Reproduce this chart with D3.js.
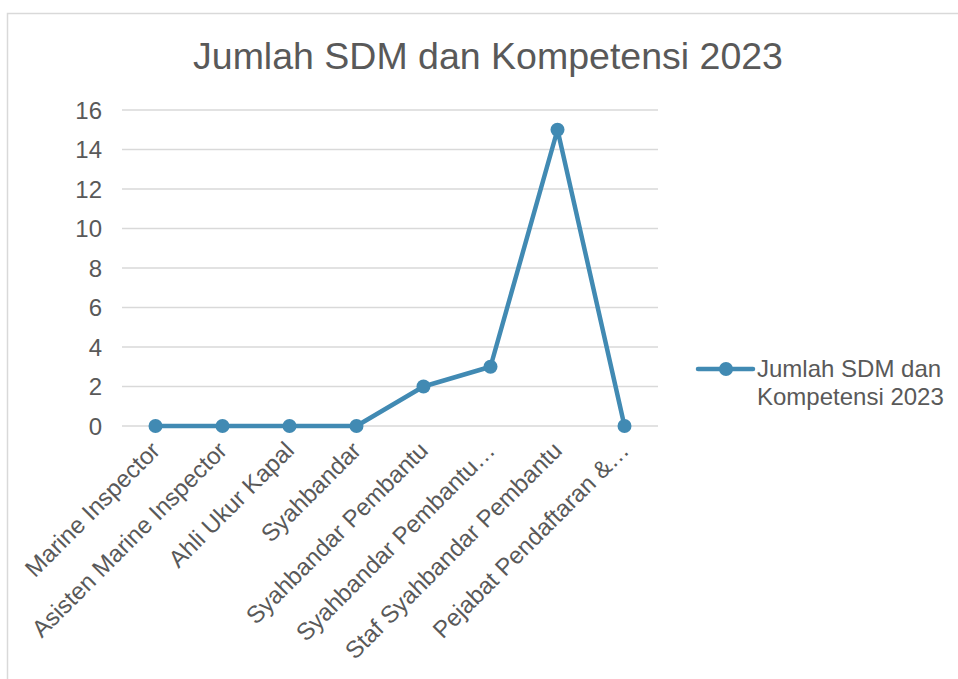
<!DOCTYPE html>
<html>
<head>
<meta charset="utf-8">
<script src="https://cdn.jsdelivr.net/npm/d3@7"></script>
<style>
  body { margin: 0; background: #fff; }
  text { font-family: "Liberation Sans", Arial, sans-serif; fill: #595959; }
</style>
</head>
<body>
<svg width="958" height="679"></svg>
<script>
var categories = ["Marine Inspector", "Asisten Marine Inspector", "Ahli Ukur Kapal", "Syahbandar",
    "Syahbandar Pembantu", "Syahbandar Pembantu…", "Staf Syahbandar Pembantu", "Pejabat Pendaftaran &…"];
var values = [0, 0, 0, 0, 2, 3, 15, 0];
var yTicks = [0, 2, 4, 6, 8, 10, 12, 14, 16];
var seriesName = "Jumlah SDM dan Kompetensi 2023";
var legendLines = ["Jumlah SDM dan", "Kompetensi 2023"];

var svg = d3.select("svg");
var color = "#418ab3";

// chart border
svg.append("rect")
    .attr("x", 7.5).attr("y", 13.5)
    .attr("width", 960).attr("height", 700)
    .attr("fill", "none").attr("stroke", "#d9d9d9").attr("stroke-width", 1.5);

svg.append("text")
    .attr("x", 488).attr("y", 69)
    .attr("text-anchor", "middle")
    .style("font-size", "37.5px")
    .text(seriesName);

var x = d3.scaleBand().domain(categories).range([122, 658]);
var y = d3.scaleLinear().domain([0, 16]).range([426, 110]);

// gridlines
svg.append("g").selectAll("line")
    .data(yTicks)
    .enter().append("line")
    .attr("x1", 122).attr("x2", 658)
    .attr("y1", function(d) { return y(d); })
    .attr("y2", function(d) { return y(d); })
    .attr("stroke", "#d9d9d9").attr("stroke-width", 1.5);

var yAxis = svg.append("g")
    .attr("transform", "translate(122,0)")
    .call(d3.axisLeft(y).tickValues(yTicks).tickSize(0).tickPadding(20));
yAxis.select(".domain").remove();
yAxis.selectAll("text").style("font-size", "24px").attr("dy", "0.35em")
    .style("font-family", "'Liberation Sans', Arial, sans-serif").attr("fill", "#595959");

var xAxis = svg.append("g")
    .attr("transform", "translate(0,426)")
    .call(d3.axisBottom(x).tickSize(0).tickPadding(0));
xAxis.select(".domain").remove();
xAxis.selectAll("text")
    .style("font-size", "24px")
    .style("font-family", "'Liberation Sans', Arial, sans-serif")
    .attr("fill", "#595959")
    .attr("text-anchor", "end")
    .attr("dy", "0")
    .attr("transform", "translate(6,26) rotate(-45)");

var line = d3.line()
    .x(function(d, i) { return x(categories[i]) + x.bandwidth() / 2; })
    .y(function(d) { return y(d); });

svg.append("path")
    .datum(values)
    .attr("d", line)
    .attr("fill", "none")
    .attr("stroke", color)
    .attr("stroke-width", 4.5)
    .attr("stroke-linejoin", "round");

svg.append("g").selectAll("circle")
    .data(values)
    .enter().append("circle")
    .attr("cx", function(d, i) { return x(categories[i]) + x.bandwidth() / 2; })
    .attr("cy", function(d) { return y(d); })
    .attr("r", 7)
    .attr("fill", color);

// legend
var lg = svg.append("g").attr("transform", "translate(698,369)");
lg.append("line").attr("x1", 0).attr("x2", 55).attr("y1", 0).attr("y2", 0)
    .attr("stroke", color).attr("stroke-width", 4.5).attr("stroke-linecap", "round");
lg.append("circle").attr("cx", 28).attr("cy", 0).attr("r", 7).attr("fill", color);
lg.selectAll("text.lab")
    .data(legendLines)
    .enter().append("text")
    .attr("class", "lab")
    .attr("x", 59)
    .attr("y", function(d, i) { return 8 + i * 28; })
    .style("font-size", "24px")
    .text(function(d) { return d; });
</script>
</body>
</html>
